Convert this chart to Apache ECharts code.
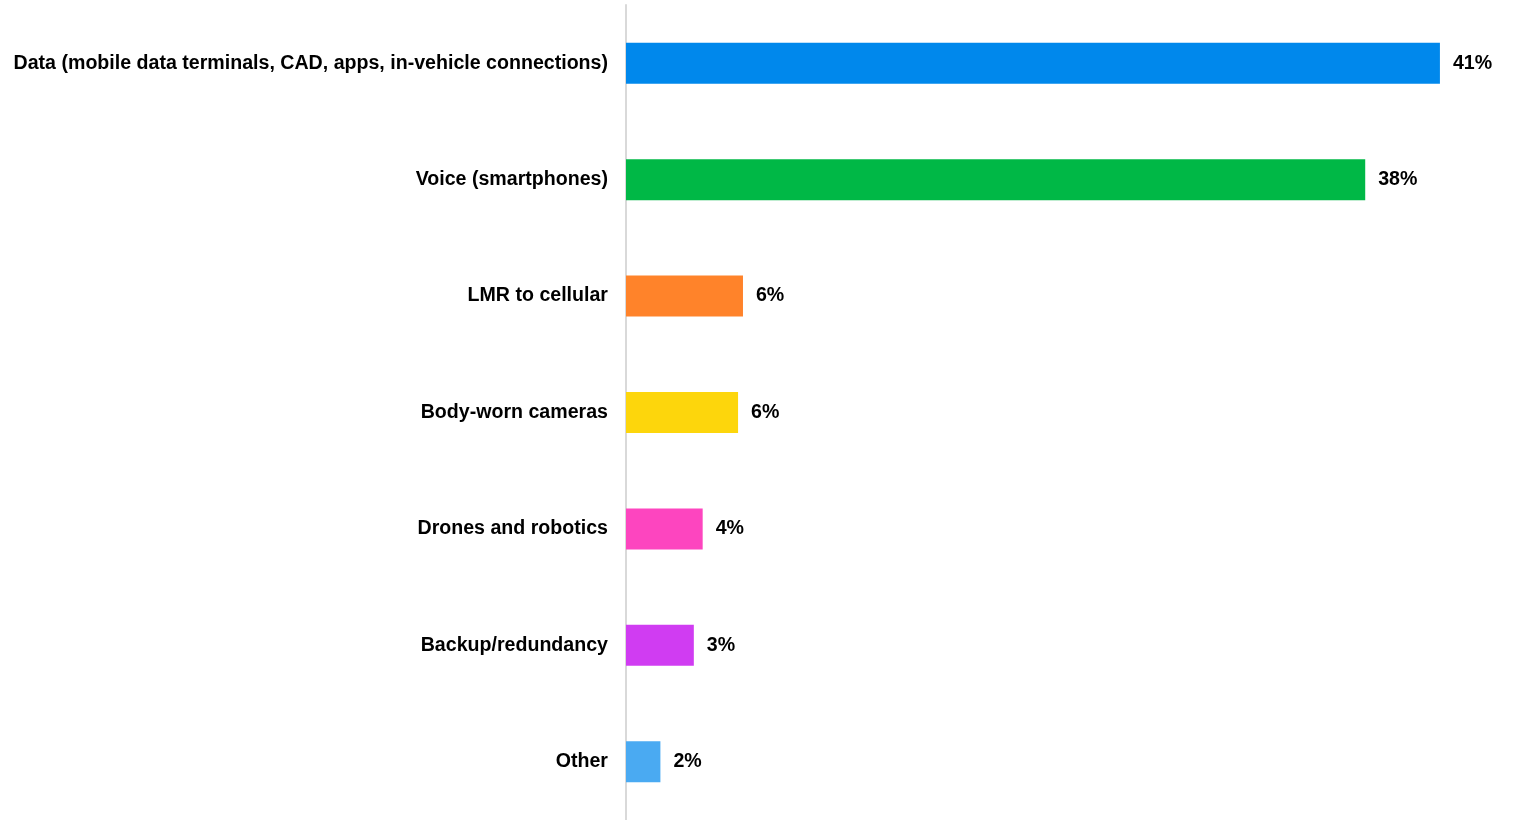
<!DOCTYPE html>
<html>
<head>
<meta charset="utf-8">
<script src="https://cdn.jsdelivr.net/npm/echarts@6/dist/echarts.min.js"></script>
<style>html,body{margin:0;padding:0;background:#fff;}#c{width:1519px;height:820px;}</style>
</head>
<body>
<div id="c"></div>
<script>
var categories = [
  "Data (mobile data terminals, CAD, apps, in-vehicle connections)",
  "Voice (smartphones)",
  "LMR to cellular",
  "Body-worn cameras",
  "Drones and robotics",
  "Backup/redundancy",
  "Other"
];
var values = [41.4, 37.6, 5.95, 5.7, 3.9, 3.45, 1.75];
var colors = ["#0088ec", "#00b846", "#ff832a", "#fdd60c", "#fd45bf", "#d03cf2", "#4aaaf2"];

var chart = echarts.init(document.getElementById('c'), null, {renderer: 'canvas'});
chart.setOption({
  animation: false,
  backgroundColor: '#fff',
  grid: {left: 626, top: 5, height: 819, width: 884.7, containLabel: false},
  xAxis: {
    type: 'value', min: 0, max: 45,
    show: false
  },
  yAxis: {
    type: 'category',
    inverse: true,
    data: categories,
    axisLine: {show: true, lineStyle: {color: '#d9d9d9', width: 2}},
    axisTick: {show: false},
    axisLabel: {
      color: '#000', fontFamily: 'Liberation Sans, Arial, sans-serif', fontWeight: 'bold',
      fontSize: 19.6, margin: 18
    }
  },
  series: [{
    type: 'bar',
    barWidth: 41,
    data: values.map(function (v, i) { return {value: v, itemStyle: {color: colors[i]}}; }),
    label: {
      show: true, position: 'right', distance: 13,
      color: '#000', fontFamily: 'Liberation Sans, Arial, sans-serif', fontWeight: 'bold', fontSize: 19.6,
      formatter: function (p) { return Math.round(p.value) + '%'; }
    }
  }]
});
</script>
</body>
</html>
